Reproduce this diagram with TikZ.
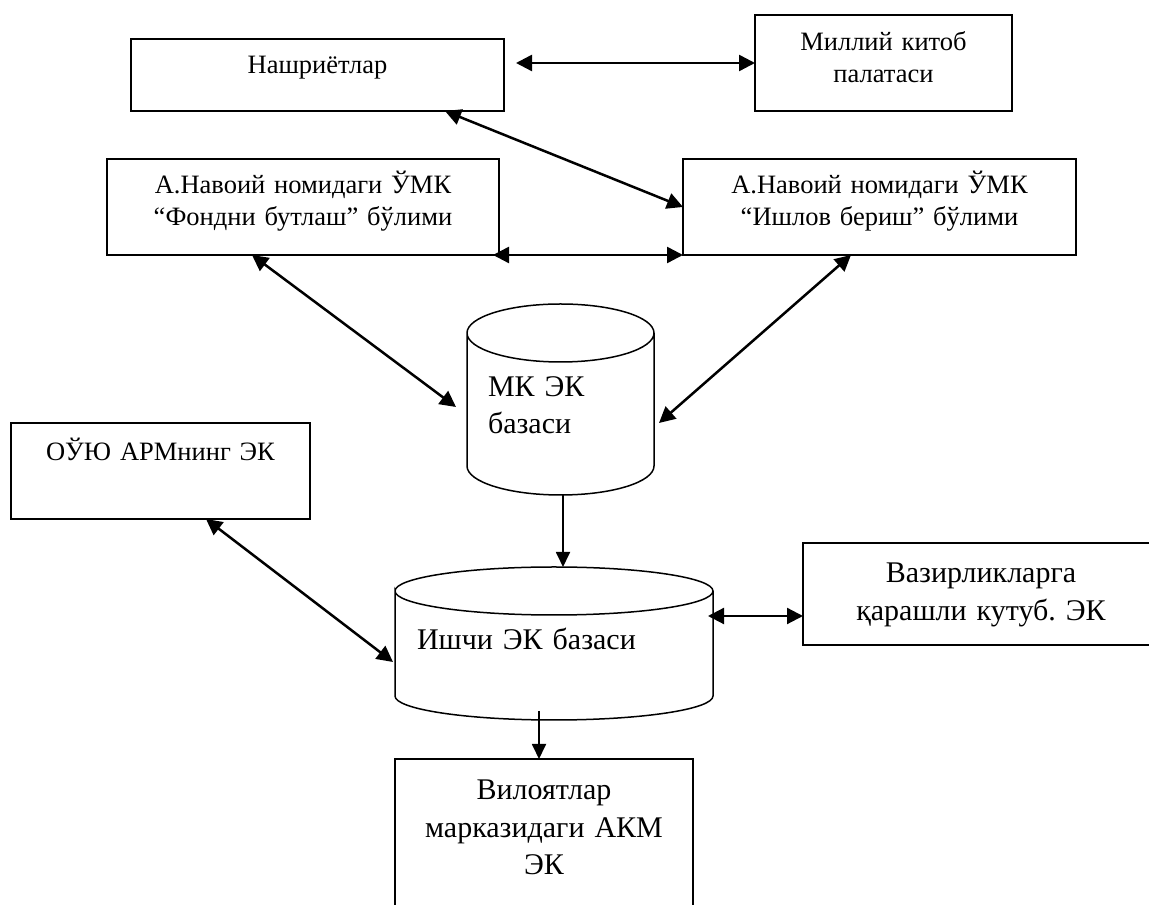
\documentclass[tikz,border=0pt]{standalone}
\usepackage{fontspec}
\setmainfont{Liberation Serif}
\usetikzlibrary{arrows.meta}
\frenchspacing

\tikzset{
  box/.style={draw,line width=1.3pt,inner sep=0pt,outer sep=0pt,anchor=north west,align=center},
  db/.style={inner ysep=0pt,outer sep=0pt,anchor=north west,align=left},
  sml/.style={font=\fontsize{26.5}{31.5}\selectfont},
  big/.style={font=\fontsize{30}{37.3}\selectfont},
  dbl/.style={line width=2.5pt,{Triangle[length=16pt,width=16pt]}-{Triangle[length=16pt,width=16pt]}},
  sgl/.style={line width=1.8pt,-{Triangle[length=15pt,width=14pt]}},
}

\begin{document}
\begin{tikzpicture}[x=1pt,y=1pt]
\useasboundingbox (0,0) rectangle (1149,905);
\clip (0,0) rectangle (1149,905);
\node[box,sml,text width=373pt,text height=35pt,text depth=37pt] (nash) at (131,866) {Нашриётлар};
\node[box,sml,text width=257pt,text height=36pt,text depth=60pt] (milliy) at (755,890) {Миллий китоб\\палатаси};
\node[box,sml,text width=392pt,text height=35pt,text depth=61pt] (fond) at (107,746) {А.Навоий номидаги ЎМК\\“Фондни бутлаш” бўлими};
\node[box,sml,text width=393pt,text height=35pt,text depth=61pt] (ishlov) at (683,746) {А.Навоий номидаги ЎМК\\“Ишлов бериш” бўлими};
\node[box,sml,text width=299pt,text height=38pt,text depth=58pt] (ouyu) at (11,482) {ОЎЮ АРМнинг ЭК};
\node[box,big,text width=356pt,text height=40pt,text depth=62pt] (vazir) at (803,362) {Вазирликларга\\қарашли кутуб. ЭК};
\node[box,big,text width=298pt,text height=41pt,text depth=130pt] (viloyat) at (395,146) {Вилоятлар\\марказидаги АКМ\\ЭК};
\node[db,big,text width=145pt,inner xsep=21pt,text height=92.7pt,text depth=98.3pt] (mk) at (467,601) {МК ЭК\\базаси};
\node[db,big,text width=274pt,inner xsep=22pt,text height=83pt,text depth=70pt] (ishchi) at (395,338) {Ишчи ЭК базаси};
\draw[line width=1.5pt] ([yshift=-29]mk.north west) arc[start angle=180,end angle=-180,x radius=93.5,y radius=29]
  -- ([yshift=29]mk.south west) arc[start angle=180,end angle=360,x radius=93.5,y radius=29]
  -- ([yshift=-29]mk.north east);
\draw[line width=1.5pt] ([yshift=-24]ishchi.north west) arc[start angle=180,end angle=-180,x radius=159,y radius=24]
  -- ([yshift=24]ishchi.south west) arc[start angle=180,end angle=360,x radius=159,y radius=24]
  -- ([yshift=-24]ishchi.north east);
\draw[dbl] ([shift={(12,-24)}]nash.north east) coordinate (p1) -- (p1 -| milliy.west);
\draw[dbl] ([xshift=314]nash.south west) -- ([yshift=-48]ishlov.north west);
\draw[dbl] ([xshift=-6]fond.south east) -- (ishlov.south west);
\draw[dbl] ([xshift=145]fond.south west) -- ([shift={(-11,-103)}]mk.north west);
\draw[dbl] ([xshift=168]ishlov.south west) -- ([shift={(5,-119)}]mk.north east);
\draw[sgl] ([xshift=2.5]mk.south) coordinate (p2) -- (p2 |- ishchi.north);
\draw[dbl] ([xshift=195]ouyu.south west) -- ([shift={(-2,-95)}]ishchi.north west);
\draw[dbl,line width=2.2pt] ([shift={(-5,-49)}]ishchi.north east) coordinate (p3) -- (p3 -| vazir.west);
\draw[sgl] ([shift={(-15,9)}]ishchi.south) coordinate (p4) -- (p4 |- viloyat.north);
\end{tikzpicture}
\end{document}
